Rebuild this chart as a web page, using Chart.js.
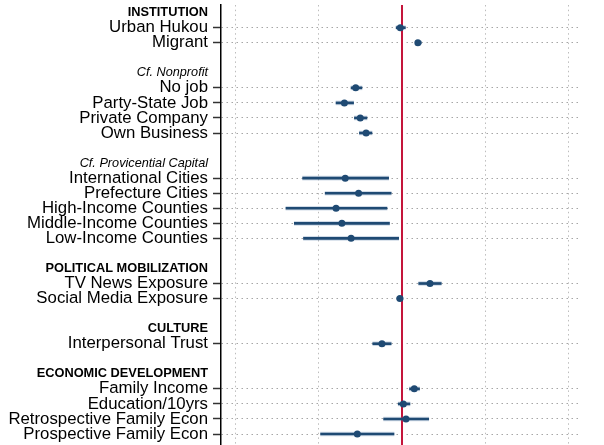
<!DOCTYPE html>
<html>
<head>
<meta charset="utf-8">
<script src="https://cdn.jsdelivr.net/npm/chart.js@4"></script>
<style>
  html, body { margin: 0; padding: 0; background: #fff; }
  #wrap { width: 604px; height: 445px; position: relative; }
</style>
</head>
<body>
<div id="wrap"><canvas id="c" width="604" height="445"></canvas></div>
<script>
// ---- Data ----
const groupTitles = ['INSTITUTION', 'Cf. Nonprofit', 'Cf. Provicential Capital', 'POLITICAL MOBILIZATION', 'CULTURE', 'ECONOMIC DEVELOPMENT'];
const groupStyles = ['bold', 'italic', 'italic', 'bold', 'bold', 'bold'];
const groupSizes = [2, 4, 5, 2, 1, 4];
const categories = ['Urban Hukou', 'Migrant', 'No job', 'Party-State Job', 'Private Company', 'Own Business',
  'International Cities', 'Prefecture Cities', 'High-Income Counties', 'Middle-Income Counties', 'Low-Income Counties',
  'TV News Exposure', 'Social Media Exposure', 'Interpersonal Trust',
  'Family Income', 'Education/10yrs', 'Retrospective Family Econ', 'Prospective Family Econ'];
const estimates = [-0.02, 0.19, -0.555, -0.69, -0.50, -0.43, -0.68, -0.52, -0.79, -0.72, -0.61, 0.335, -0.025, -0.24, 0.147, 0.016, 0.048, -0.535];
const lower = [-0.07, 0.16, -0.61, -0.79, -0.57, -0.51, -1.19, -0.92, -1.39, -1.29, -1.18, 0.20, -0.06, -0.35, 0.09, -0.045, -0.22, -0.975];
const upper = [0.04, 0.23, -0.48, -0.58, -0.42, -0.36, -0.16, -0.13, -0.18, -0.15, -0.04, 0.47, 0.01, -0.13, 0.21, 0.095, 0.32, -0.096];
const xTicks = [-2, -1, 0, 1, 2];

// ---- Build slot layout (header row, item rows, blank row) ----
const slotLabel = {};
const slotKind = {};
const itemSlots = [];
let slot = 0, k = 0;
groupTitles.forEach((t, g) => {
  slotLabel[slot] = t; slotKind[slot] = groupStyles[g];
  for (let j = 0; j < groupSizes[g]; j++) {
    const s = slot + 1 + j;
    slotLabel[s] = categories[k]; slotKind[s] = 'item';
    itemSlots.push(s); k++;
  }
  slot += groupSizes[g] + 2;
});
const maxSlot = slot - 2;

const ciData = categories.map((c, i) => ({ x: [lower[i], upper[i]], y: itemSlots[i] }));
const ptData = categories.map((c, i) => ({ x: estimates[i], y: itemSlots[i] }));

const FAMILY = "'Liberation Sans', Arial, Helvetica, sans-serif";
const NAVY = '#1f4a73';

const zeroLine = {
  id: 'zeroLine',
  beforeDatasetsDraw(chart) {
    const { ctx, chartArea, scales } = chart;
    const x = scales.x.getPixelForValue(0);
    ctx.save();
    ctx.strokeStyle = '#c4153b';
    ctx.lineWidth = 2;
    ctx.beginPath();
    ctx.moveTo(x, chartArea.top);
    ctx.lineTo(x, chartArea.bottom);
    ctx.stroke();
    ctx.restore();
  }
};

new Chart(document.getElementById('c'), {
  type: 'scatter',
  data: {
    datasets: [
      { type: 'bar', indexAxis: 'y', data: ciData, backgroundColor: 'rgba(70,110,160,0.25)', barThickness: 4, grouped: false, order: 3 },
      { type: 'bar', indexAxis: 'y', data: ciData, backgroundColor: NAVY, barThickness: 2, grouped: false, order: 2 },
      { type: 'scatter', data: ptData, backgroundColor: NAVY, borderColor: NAVY, pointRadius: 3.5, pointBorderWidth: 0, order: 1 }
    ]
  },
  options: {
    responsive: false,
    animation: false,
    devicePixelRatio: 1,
    layout: { autoPadding: false, padding: { top: 5, right: 26, bottom: 0, left: 0 } },
    plugins: { legend: { display: false }, tooltip: { enabled: false } },
    scales: {
      x: {
        type: 'linear', axis: 'x', position: 'bottom',
        offset: false,
        min: -2.168, max: 2.108,
        afterBuildTicks: s => { s.ticks = xTicks.map(v => ({ value: v })); },
        afterFit: s => { s.height = 0; s.paddingLeft = 0; s.paddingRight = 0; },
        ticks: { display: false },
        grid: { offset: false, color: '#bdbdbd', lineWidth: 1, drawTicks: false },
        border: { display: false, dash: [1.5, 3.2] }
      },
      y: {
        type: 'linear', axis: 'y', position: 'left', reverse: true,
        offset: false,
        min: -0.505, max: 28.73,
        afterBuildTicks: s => {
          const t = [];
          for (let i = 0; i <= maxSlot; i++) t.push({ value: i });
          s.ticks = t;
        },
        afterFit: s => { s.width = 221; s.paddingTop = 0; s.paddingBottom = 0; },
        ticks: {
          autoSkip: false,
          padding: 5,
          color: '#000',
          callback: v => slotLabel[v] || '',
          font: ctx => {
            const kind = slotKind[ctx.tick && ctx.tick.value];
            if (kind === 'bold') return { family: FAMILY, size: 12.8, weight: 'bold' };
            if (kind === 'italic') return { family: FAMILY, size: 12.7, style: 'italic' };
            return { family: FAMILY, size: 16.8 };
          }
        },
        grid: {
          offset: false,
          lineWidth: 1,
          tickLength: 8,
          tickWidth: 1.5,
          tickBorderDash: [],
          color: ctx => (ctx.tick && slotKind[ctx.tick.value] === 'item') ? '#a6a6a6' : 'rgba(0,0,0,0)',
          tickColor: ctx => (ctx.tick && slotKind[ctx.tick.value] === 'item') ? '#333' : 'rgba(0,0,0,0)'
        },
        border: { display: true, color: '#000', width: 1.5, dash: [1.5, 3.5] }
      }
    }
  },
  plugins: [zeroLine]
});
</script>
</body>
</html>
